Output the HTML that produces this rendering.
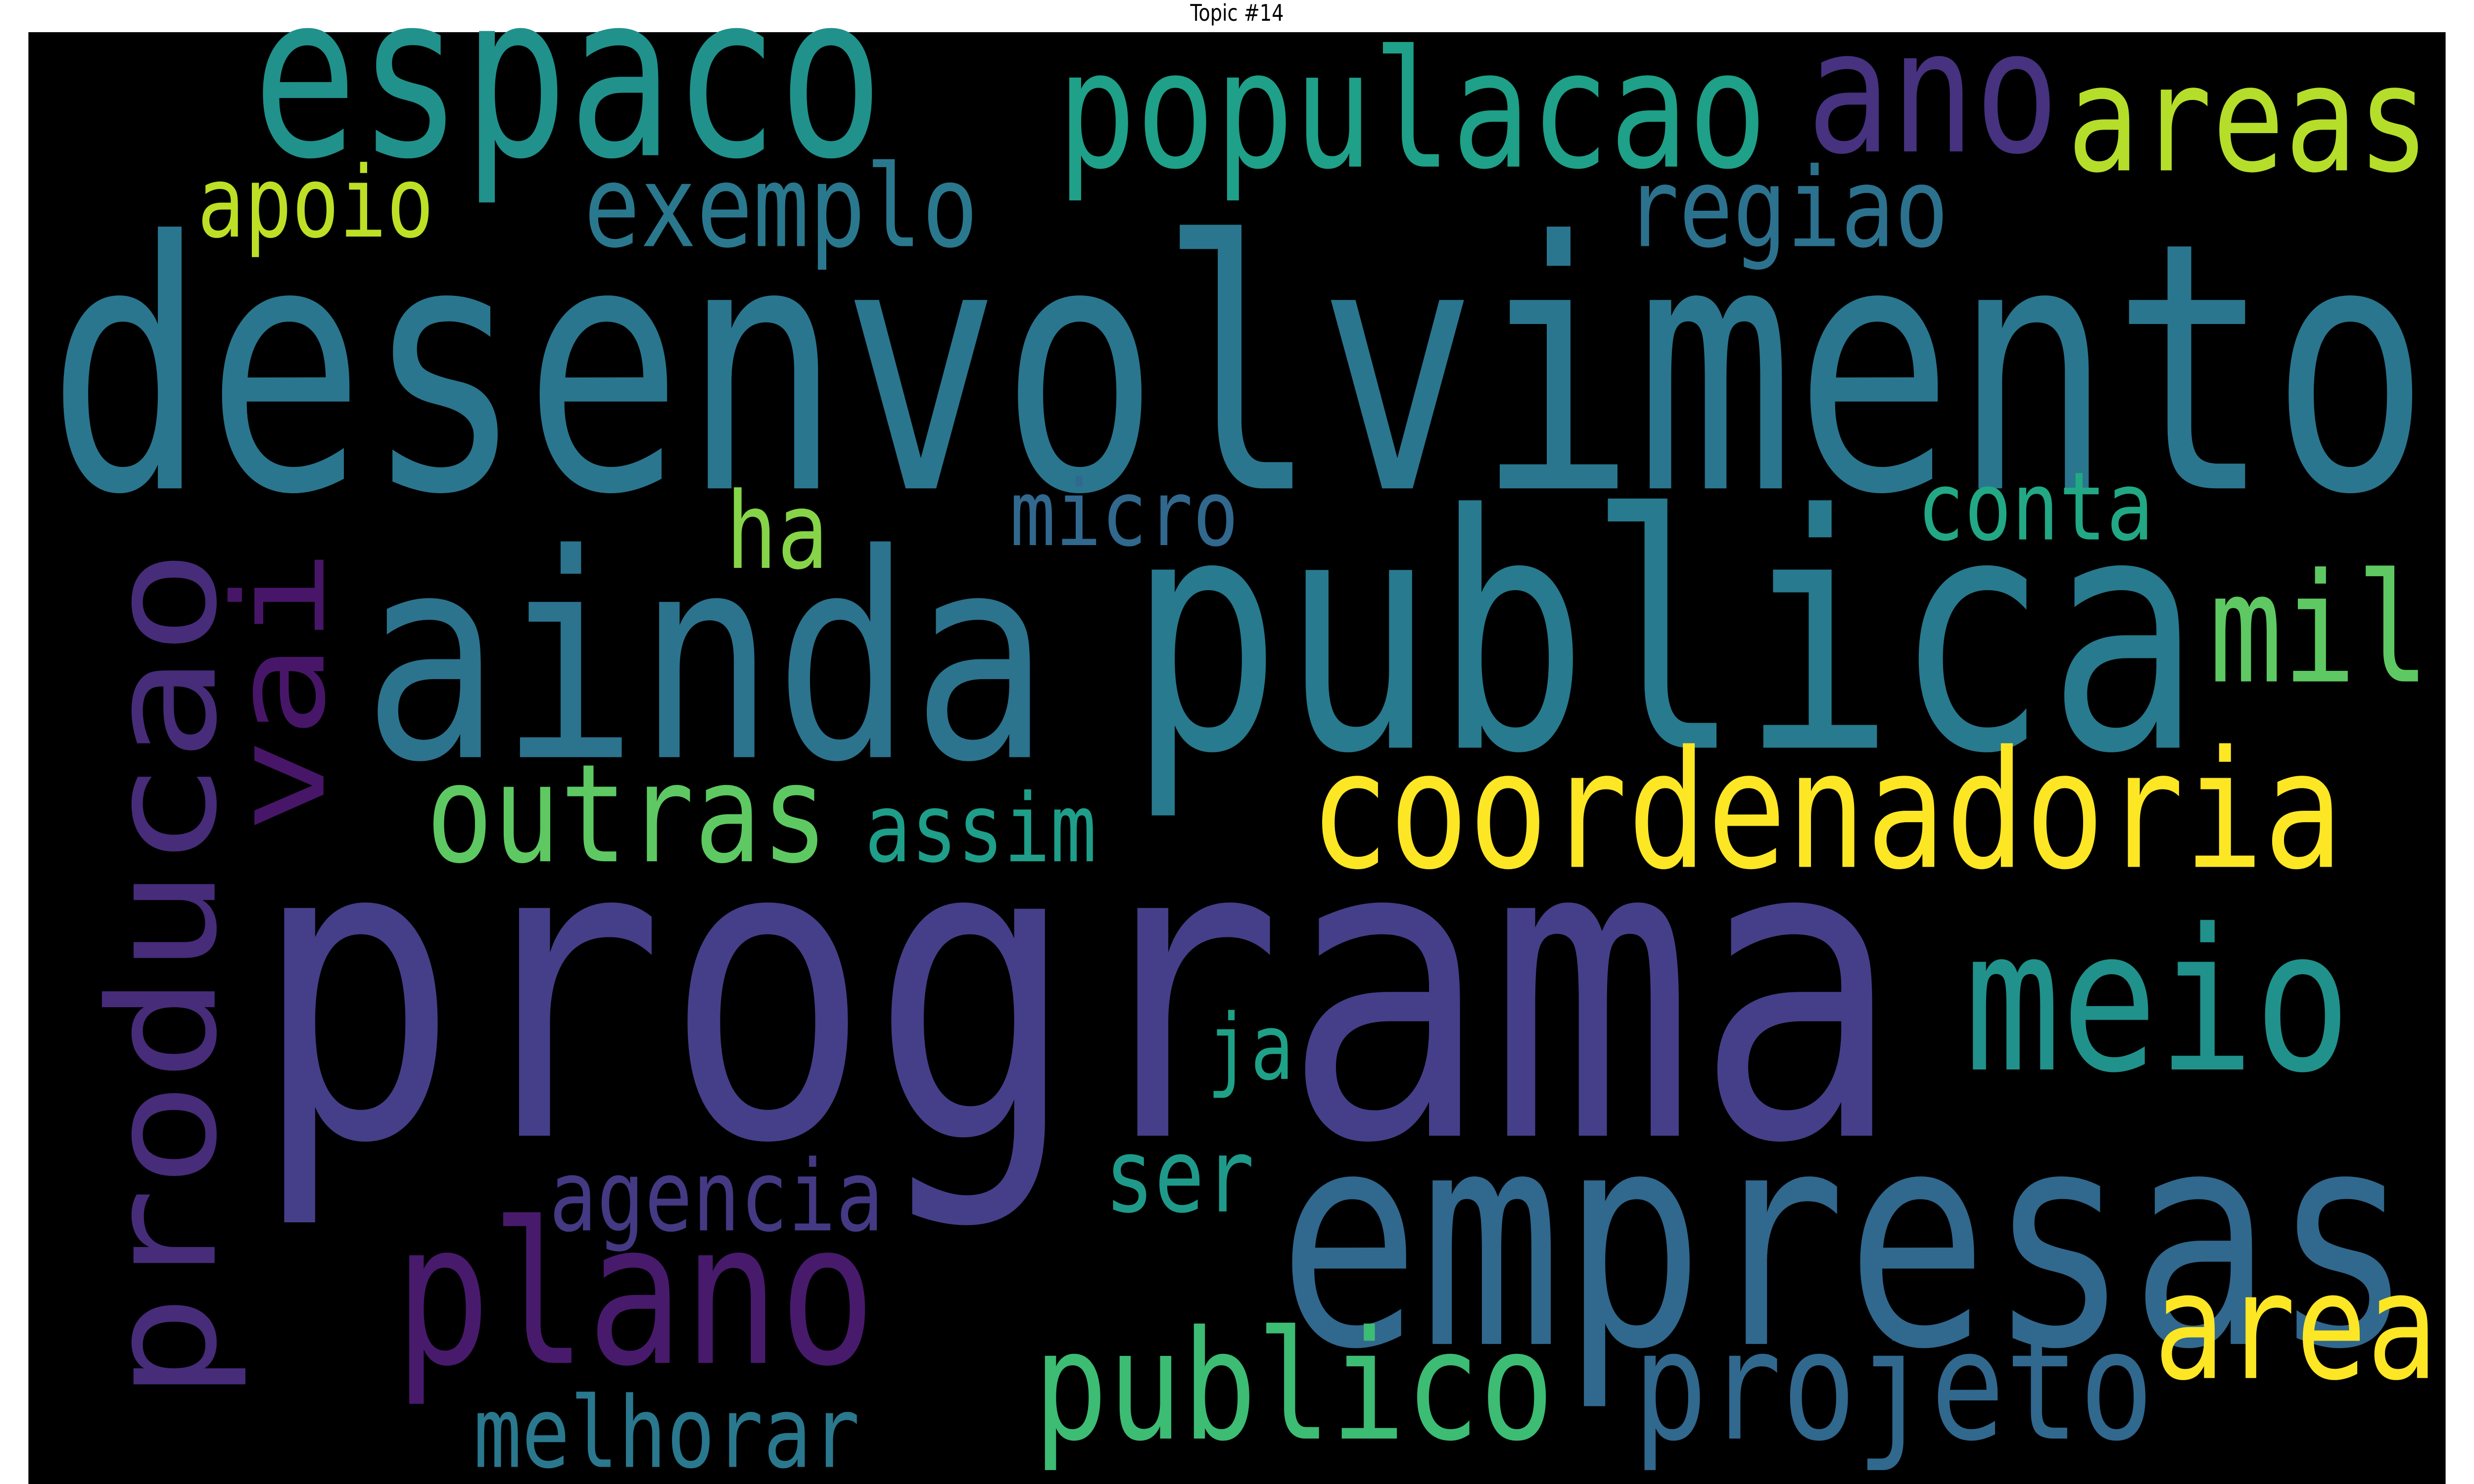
<!DOCTYPE html>
<html><head><meta charset="utf-8"><style>
html,body{margin:0;padding:0;background:#fff;width:100vw;height:100vh;overflow:hidden}
svg{position:absolute;left:0;top:0;display:block;width:100vw;height:100vh}
text{font-family:"DejaVu Sans Mono","Liberation Mono",monospace}
</style></head><body>
<svg viewBox="0 0 1568 784" preserveAspectRatio="none">
<text x="784" y="11" text-anchor="middle" font-size="12" fill="#000" style="font-family:'DejaVu Sans','Liberation Sans',sans-serif">Topic #14</text>
<rect x="18" y="17" width="1532" height="767" fill="#000"/>
<g id="words"></g>
</svg>
<script>
const words=["desenvolvimento","programa","publica","ainda","empresas","espaco","populacao","ano","areas","apoio","exemplo","regiao","ha","micro","conta","mil","outras","assim","coordenadoria","meio","ja","agencia","ser","plano","publico","projeto","area","melhorar","producao","vai"];
const sizes=[182,220,172,150,158,120,86,90,78,52,60,58,56,48,50,80,72,50,86,104,48,52,54,104,80,80,78,52,94,80];
const colors=["#2a768e","#453f89","#287a8e","#2c738e","#31688e","#21918c","#1fa088","#46327e","#b5de2b","#bddf26","#2a788e","#2c728e","#86d549","#31688e","#22a884","#5ec962","#5ec962","#1f9e89","#fde725","#21918c","#1fa187","#443983","#1f9a8a","#481a6c","#3dbc74","#31688e","#fde725","#2a788e","#472c7a","#481668"];
const pos=[[30,258,1510],[160,600,1045],[715,395,680],[230,400,435],[810,710,720],[160,82,400],[670,88,450],[1145,80,160],[1310,90,230],[125,125,150],[370,130,250],[1030,130,205],[460,300,65],[640,288,145],[1215,285,150],[1400,360,140],[270,455,255],[548,455,147],[830,458,655],[1245,565,245],[765,570,55],[348,650,212],[700,640,95],[250,720,305],[655,760,330],[1035,760,330],[1365,728,180],[300,775,245],[136,740,450],[205,440,150]];
const g=document.getElementById('words');
const NS='http://www.w3.org/2000/svg';
words.forEach((w,i)=>{
  const t=document.createElementNS(NS,'text');
  
  
  t.setAttribute('font-size',sizes[i]);
  t.setAttribute('fill',colors[i]);
  t.setAttribute('textLength',pos[i][2]);
  t.setAttribute('lengthAdjust','spacingAndGlyphs');
  if(w==='producao'||w==='vai'){
    t.setAttribute('x',0);t.setAttribute('y',0);
    t.setAttribute('transform','translate('+pos[i][0]+','+pos[i][1]+') rotate(-90)');
  }else{
    t.setAttribute('x',pos[i][0]);t.setAttribute('y',pos[i][1]);
  }
  t.textContent=w;
  g.appendChild(t);
});
</script>
</body></html>
